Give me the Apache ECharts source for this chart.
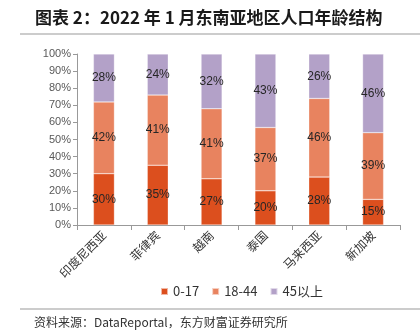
<!DOCTYPE html>
<html><head><meta charset="utf-8">
<script src="https://cdn.jsdelivr.net/npm/echarts@6/dist/echarts.min.js"></script>
<style>html,body{margin:0;padding:0;background:#fff;}#c{width:420px;height:332px;}</style>
</head><body><div id="c"></div>
<script>
const categories = ['印度尼西亚','菲律宾','越南','泰国','马来西亚','新加坡'];
const age0_17 = [30, 35, 27, 20, 28, 15];
const age18_44 = [42, 41, 41, 37, 46, 39];
const age45plus = [28, 24, 32, 43, 26, 46];
const seriesNames = ['0-17','18-44','45以上'];
const colors = ['#DC4F1E','#E8835F','#B3A1C8'];

const chart = echarts.init(document.getElementById('c'));
const font = '"Noto Sans CJK SC", "Liberation Sans", sans-serif';
function mk(name, data, color){
  return {name, type:'bar', stack:'s', data, barWidth:21,
    itemStyle:{color, borderColor:'rgba(255,255,255,0.6)', borderWidth:0.5},
    label:{show:true, position:'inside', formatter:p=>p.value+'%', color:'#262626', fontSize:12, fontFamily:'"Liberation Sans", Arial, sans-serif'}};
}
chart.setOption({
  animation:false,
  title:[{text:'图表 2：2022 年 1 月东南亚地区人口年龄结构', left:30, top:4,
    textStyle:{fontSize:17, fontWeight:'bold', color:'#1a1a1a', fontFamily:font}},
    {text:'资料来源：DataReportal，东方财富证券研究所', left:29, top:311,
    textStyle:{fontSize:12, fontWeight:'normal', color:'#333', fontFamily:font}}],
  graphic:[
    {type:'line', shape:{x1:20,y1:34,x2:420,y2:34}, style:{stroke:'#999', lineWidth:1}},
    {type:'line', shape:{x1:20,y1:309,x2:420,y2:309}, style:{stroke:'#999', lineWidth:1}}
  ],
  legend:{data:seriesNames, left:155, top:280, itemWidth:7, itemHeight:7, itemGap:12,
    icon:'rect', textStyle:{fontSize:13, color:'#333', fontFamily:font}},
  grid:{left:77, right:20, top:54, bottom:107},
  xAxis:{type:'category', data:categories,
    axisLine:{lineStyle:{color:'#999'}},
    axisTick:{show:true, alignWithLabel:false, lineStyle:{color:'#999'}},
    axisLabel:{rotate:45, color:'#333', fontSize:12, fontFamily:font, margin:8, interval:0}},
  yAxis:{type:'value', min:0, max:100, interval:10,
    axisLine:{show:true, lineStyle:{color:'#999'}},
    axisTick:{show:true, length:4, lineStyle:{color:'#999'}},
    splitLine:{show:false},
    axisLabel:{formatter:v=>v+'%', color:'#595959', fontSize:11, fontFamily:'"Liberation Sans", Arial, sans-serif', margin:6}},
  series:[mk(seriesNames[0], age0_17, colors[0]), mk(seriesNames[1], age18_44, colors[1]), mk(seriesNames[2], age45plus, colors[2])]
});
</script></body></html>
